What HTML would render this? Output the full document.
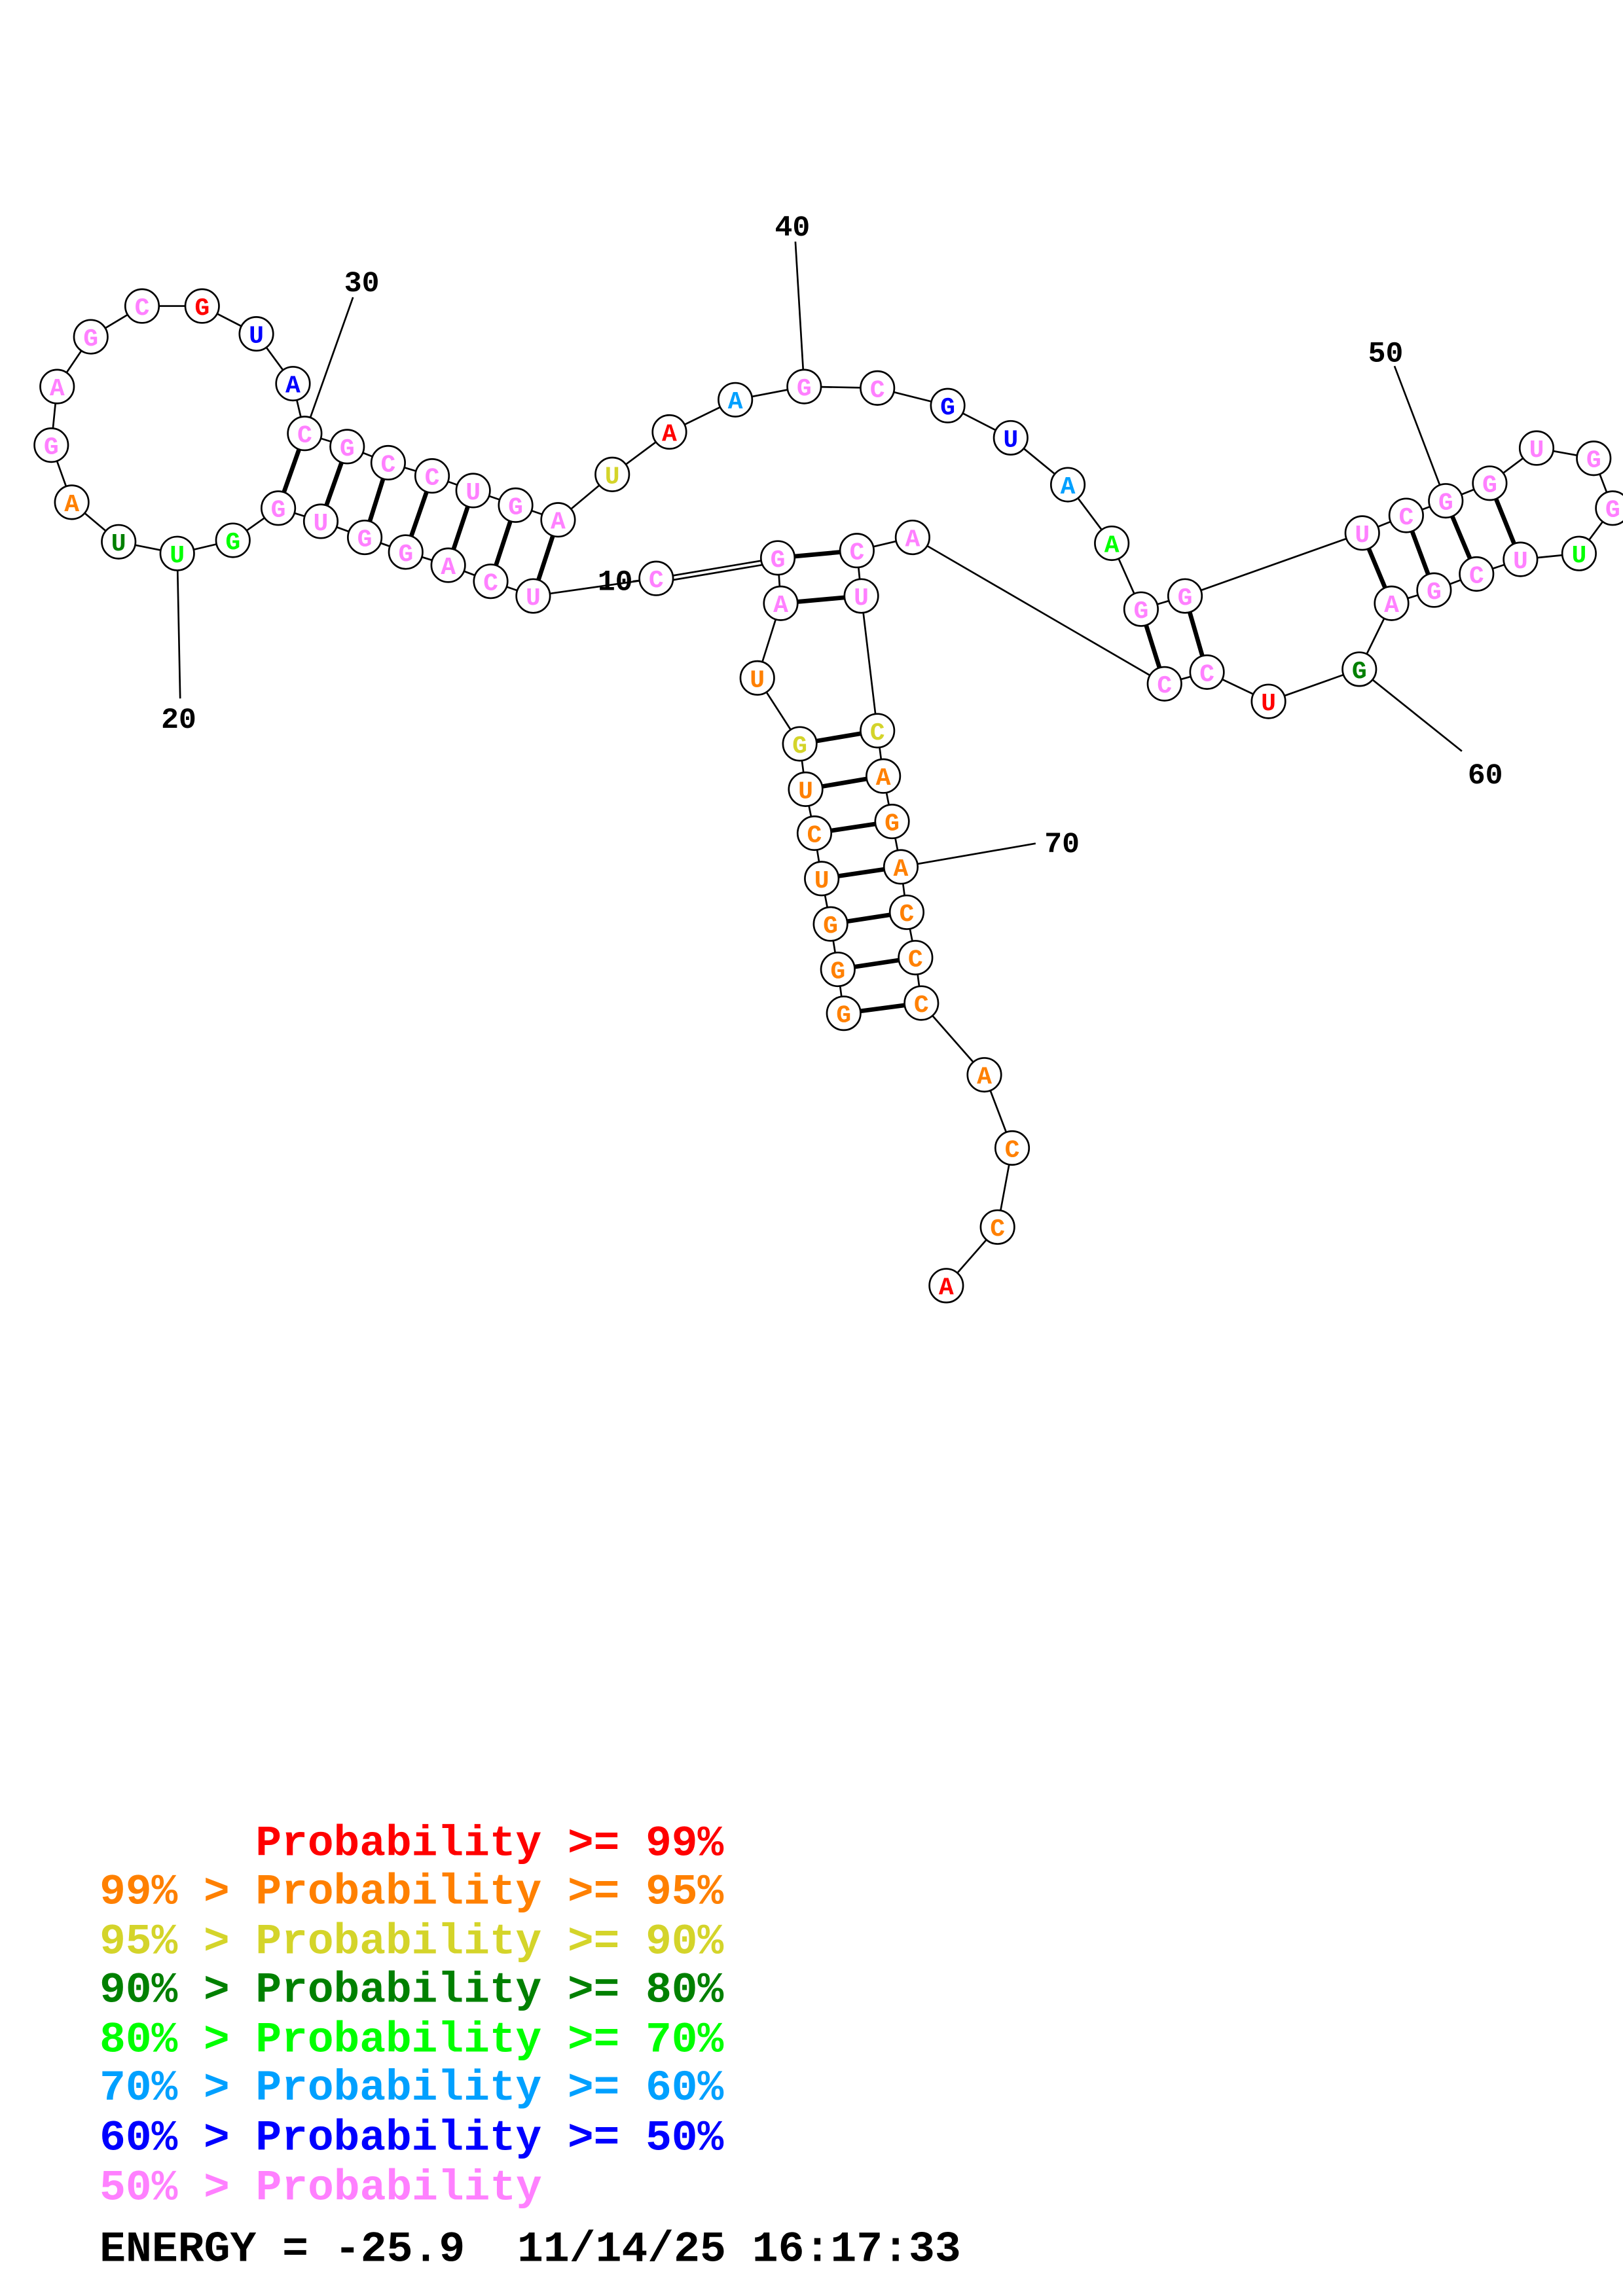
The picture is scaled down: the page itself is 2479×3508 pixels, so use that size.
<!DOCTYPE html>
<html><head><meta charset="utf-8"><style>
html,body{margin:0;padding:0;background:#fff;}
svg{display:block;}
text{font-family:"Liberation Mono",monospace;font-weight:bold;white-space:pre;}
</style></head><body>
<svg width="2479" height="3508" viewBox="0 0 1108 1568" preserveAspectRatio="none" xmlns="http://www.w3.org/2000/svg">
<g stroke="#000" stroke-width="1.2" fill="none">
<polyline points="646,878 681,838 691,784 672,734 629,685 625,654 619,623 615,592 609,561 603,530 599,499 588,407 585,376 623,367 795,467 824,459 866,479 928,457 950,412 979,403 1008,392 1038,382 1078,378 1101,347 1088,313 1049,306 1017,330 987,342 960,352 930,364 809,407 779,416 759,371 729,331 690,299 647,277 599,265 549,264 502,273 457,295 418,324 381,355 352,345 323,335 295,325 265,316 237,305 208,296 200,262 175,228 138,209 97,209 62,230 39,264 35,304 49,343 81,370 121,378 159,369 190,347 219,356 249,367 277,377 306,386 335,397 364,407 448,395 531,381 533,412 517,463 546,508 550,539 556,569 561,600 567,631 572,662 576,692"/>
<line x1="121" y1="378" x2="123" y2="477"/>
<line x1="208" y1="296" x2="241" y2="203"/>
<line x1="549" y1="264" x2="543" y2="165"/>
<line x1="987" y1="342" x2="952" y2="250"/>
<line x1="928" y1="457" x2="998" y2="513"/>
<line x1="615" y1="592" x2="707" y2="576"/>
<line x1="448" y1="395" x2="432" y2="397"/>
<line x1="448" y1="398" x2="531" y2="384"/>
</g>
<g stroke="#000" stroke-width="3">
<line x1="208" y1="296" x2="190" y2="347"/><line x1="237" y1="305" x2="219" y2="356"/>
<line x1="265" y1="316" x2="249" y2="367"/><line x1="295" y1="325" x2="277" y2="377"/>
<line x1="323" y1="335" x2="306" y2="386"/><line x1="352" y1="345" x2="335" y2="397"/>
<line x1="381" y1="355" x2="364" y2="407"/>
<line x1="531" y1="381" x2="585" y2="376"/><line x1="533" y1="412" x2="588" y2="407"/>
<line x1="546" y1="508" x2="599" y2="499"/><line x1="550" y1="539" x2="603" y2="530"/>
<line x1="556" y1="569" x2="609" y2="561"/><line x1="561" y1="600" x2="615" y2="592"/>
<line x1="567" y1="631" x2="619" y2="623"/><line x1="572" y1="662" x2="625" y2="654"/>
<line x1="576" y1="692" x2="629" y2="685"/>
<line x1="779" y1="416" x2="795" y2="467"/><line x1="809" y1="407" x2="824" y2="459"/>
<line x1="930" y1="364" x2="950" y2="412"/><line x1="960" y1="352" x2="979" y2="403"/>
<line x1="987" y1="342" x2="1008" y2="392"/><line x1="1017" y1="330" x2="1038" y2="382"/>
</g>
<g id="nodes" stroke="#000" stroke-width="1.2" fill="#fff"></g>
<g font-size="20" fill="#000" text-anchor="middle">
<text x="122" y="497">20</text><text x="247" y="199">30</text><text x="541" y="161">40</text>
<text x="946" y="247">50</text><text x="1014" y="535">60</text><text x="725" y="582">70</text><text x="420" y="403">10</text>
</g>
<g font-size="29.6">
<text x="68" y="1267" fill="#ff0000" textLength="426" lengthAdjust="spacingAndGlyphs">      Probability &gt;= 99%</text>
<text x="68" y="1300" fill="#ff8000" textLength="426" lengthAdjust="spacingAndGlyphs">99% &gt; Probability &gt;= 95%</text>
<text x="68" y="1334" fill="#d4d42a" textLength="426" lengthAdjust="spacingAndGlyphs">95% &gt; Probability &gt;= 90%</text>
<text x="68" y="1367" fill="#008000" textLength="426" lengthAdjust="spacingAndGlyphs">90% &gt; Probability &gt;= 80%</text>
<text x="68" y="1401" fill="#00ff00" textLength="426" lengthAdjust="spacingAndGlyphs">80% &gt; Probability &gt;= 70%</text>
<text x="68" y="1434" fill="#00a0ff" textLength="426" lengthAdjust="spacingAndGlyphs">70% &gt; Probability &gt;= 60%</text>
<text x="68" y="1468" fill="#0000ff" textLength="426" lengthAdjust="spacingAndGlyphs">60% &gt; Probability &gt;= 50%</text>
<text x="68" y="1502" fill="#ff80ff" textLength="302" lengthAdjust="spacingAndGlyphs">50% &gt; Probability</text>
<text x="68" y="1544" fill="#000" textLength="588" lengthAdjust="spacingAndGlyphs">ENERGY = -25.9  11/14/25 16:17:33</text>
</g>
<g id="lab" font-size="17" text-anchor="middle"></g>
</svg>
<script>
var R="#ff0000",O="#ff8000",Y="#d4d42a",D="#008000",G="#00ff00",C="#00a0ff",B="#0000ff",P="#ff80ff";
var n=[[646,878,"A",R],[681,838,"C",O],[691,784,"C",O],[672,734,"A",O],[629,685,"C",O],[625,654,"C",O],[619,623,"C",O],[615,592,"A",O],[609,561,"G",O],[603,530,"A",O],[599,499,"C",Y],[588,407,"U",P],[585,376,"C",P],[623,367,"A",P],[795,467,"C",P],[824,459,"C",P],[866,479,"U",R],[928,457,"G",D],[950,412,"A",P],[979,403,"G",P],[1008,392,"C",P],[1038,382,"U",P],[1078,378,"U",G],[1101,347,"G",P],[1088,313,"G",P],[1049,306,"U",P],[1017,330,"G",P],[987,342,"G",P],[960,352,"C",P],[930,364,"U",P],[809,407,"G",P],[779,416,"G",P],[759,371,"A",G],[729,331,"A",C],[690,299,"U",B],[647,277,"G",B],[599,265,"C",P],[549,264,"G",P],[502,273,"A",C],[457,295,"A",R],[418,324,"U",Y],[381,355,"A",P],[352,345,"G",P],[323,335,"U",P],[295,325,"C",P],[265,316,"C",P],[237,305,"G",P],[208,296,"C",P],[200,262,"A",B],[175,228,"U",B],[138,209,"G",R],[97,209,"C",P],[62,230,"G",P],[39,264,"A",P],[35,304,"G",P],[49,343,"A",O],[81,370,"U",D],[121,378,"U",G],[159,369,"G",G],[190,347,"G",P],[219,356,"U",P],[249,367,"G",P],[277,377,"G",P],[306,386,"A",P],[335,397,"C",P],[364,407,"U",P],[448,395,"C",P],[531,381,"G",P],[533,412,"A",P],[517,463,"U",O],[546,508,"G",Y],[550,539,"U",O],[556,569,"C",O],[561,600,"U",O],[567,631,"G",O],[572,662,"G",O],[576,692,"G",O]];
var ns="http://www.w3.org/2000/svg",g=document.getElementById("nodes"),l=document.getElementById("lab");
n.forEach(function(a){var c=document.createElementNS(ns,"circle");c.setAttribute("cx",a[0]);c.setAttribute("cy",a[1]);c.setAttribute("r",11.5);g.appendChild(c);
var t=document.createElementNS(ns,"text");t.setAttribute("x",a[0]);t.setAttribute("y",a[1]+6);t.setAttribute("fill",a[3]);t.textContent=a[2];l.appendChild(t);});
</script>
</body></html>
